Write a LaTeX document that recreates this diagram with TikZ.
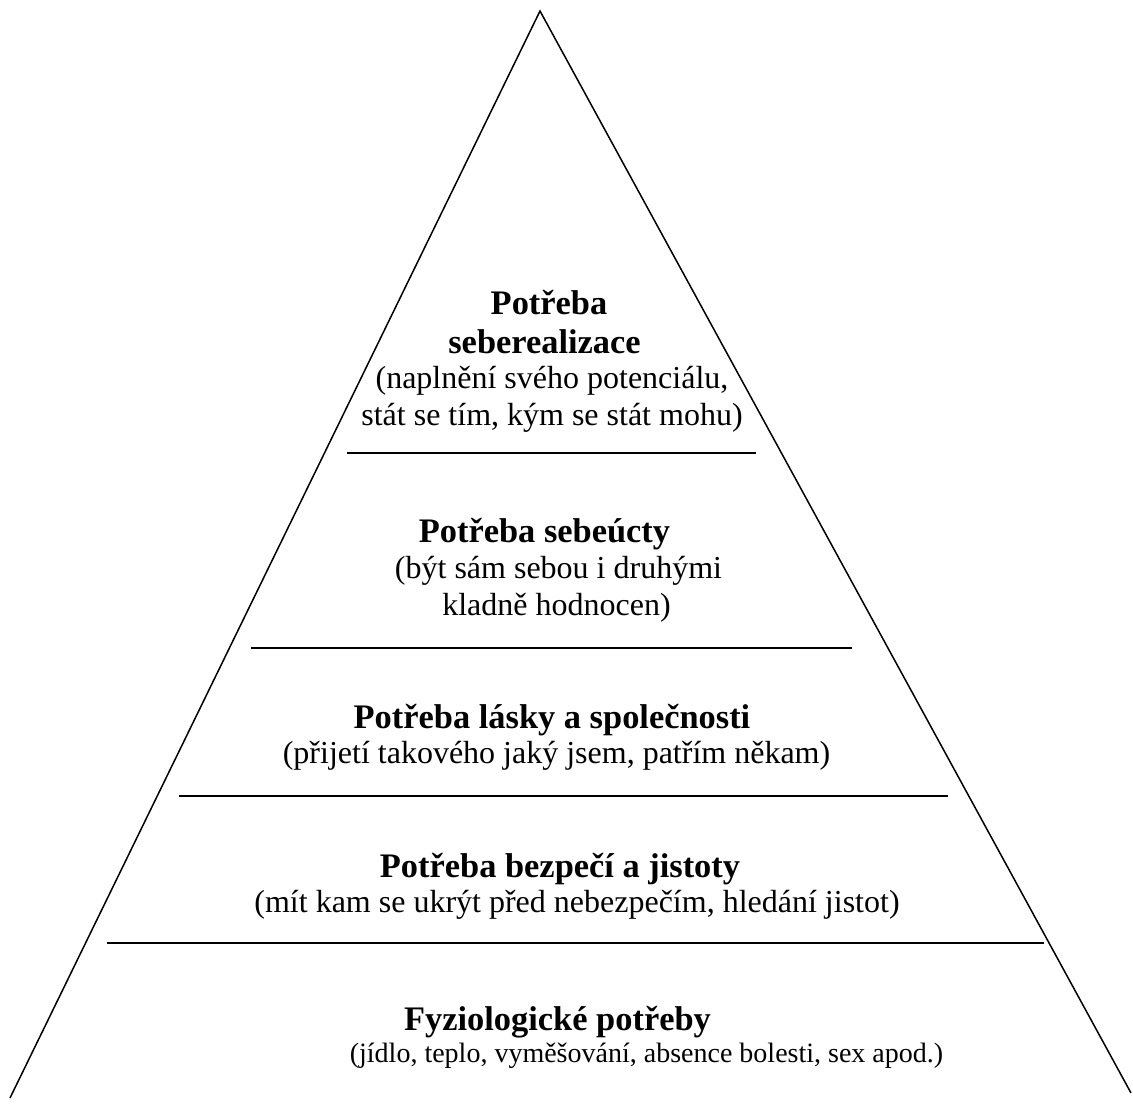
\documentclass[tikz,border=0pt]{standalone}
\usepackage{fontspec}
\setmainfont{Liberation Serif}
\begin{document}
\begin{tikzpicture}[x=1pt,y=-1pt,
  title/.style={inner sep=0pt, anchor=base, font=\fontsize{34.4}{40}\selectfont\bfseries},
  desc/.style={inner sep=0pt, anchor=base, font=\fontsize{32}{37}\selectfont},
  descsmall/.style={inner sep=0pt, anchor=base, font=\fontsize{28}{32}\selectfont},
  side/.style={line width=1.5pt},
  divider/.style={line width=1.8pt}]
\useasboundingbox (0,0) rectangle (1133,1109);
% triangle sides
\coordinate (apex) at (540,11);
\coordinate (bl) at (10,1098);
\coordinate (br) at (1131,1093);
\draw[side] (bl) -- (apex) -- (br);
% dividers
\coordinate (l1a) at (347,453); \coordinate (l1b) at (756,453);
\coordinate (l2a) at (251,648); \coordinate (l2b) at (852,648);
\coordinate (l3a) at (179,796); \coordinate (l3b) at (948,796);
\coordinate (l4a) at (107,943); \coordinate (l4b) at (1044,943);
\draw[divider] (l1a) -- (l1b);
\draw[divider] (l2a) -- (l2b);
\draw[divider] (l3a) -- (l3b);
\draw[divider] (l4a) -- (l4b);
% level 1
\node[title] (t1a) at (549,314) {Potřeba};
\node[title] (t1b) at (544.5,353) {seberealizace};
\node[desc] (d1a) at (552,388) {(naplnění svého potenciálu,};
\node[desc] (d1b) at (552,425) {stát se tím, kým se stát mohu)};
% level 2
\node[title] (t2) at (544.5,542) {Potřeba sebeúcty};
\node[desc] (d2a) at (558.5,578) {(být sám sebou i druhými};
\node[desc] (d2b) at (556.5,615) {kladně hodnocen)};
% level 3
\node[title] (t3) at (552,728) {Potřeba lásky a společnosti};
\node[desc] (d3) at (556.5,763) {(přijetí takového jaký jsem, patřím někam)};
% level 4
\node[title] (t4) at (560,877) {Potřeba bezpečí a jistoty};
\node[desc] (d4) at (577,912) {(mít kam se ukrýt před nebezpečím, hledání jistot)};
% level 5
\node[title] (t5) at (557.5,1030) {Fyziologické potřeby};
\node[descsmall] (d5) at (646.5,1062) {(jídlo, teplo, vyměšování, absence bolesti, sex apod.)};
\end{tikzpicture}
\end{document}
